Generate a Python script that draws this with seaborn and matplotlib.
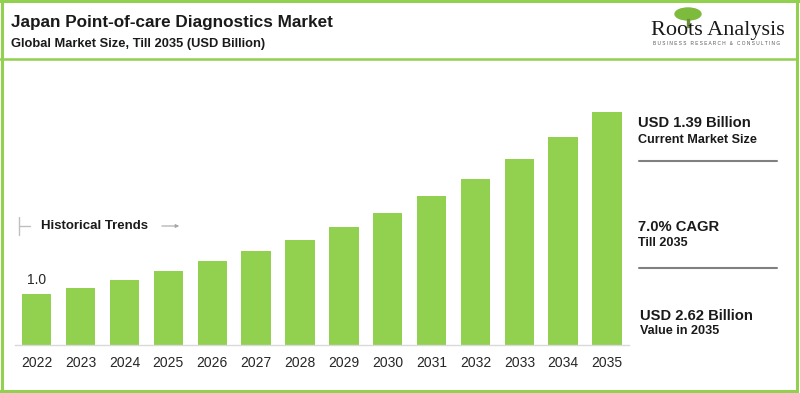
import matplotlib
matplotlib.use("Agg")
import matplotlib.pyplot as plt
import seaborn as sns
import pandas as pd
from matplotlib.lines import Line2D
from matplotlib.patches import Ellipse, Rectangle, FancyArrowPatch

# ---- data ----
years = ["2022", "2023", "2024", "2025", "2026", "2027", "2028",
         "2029", "2030", "2031", "2032", "2033", "2034", "2035"]
values = [1.00, 1.12, 1.28, 1.46, 1.66, 1.85, 2.08,
          2.33, 2.61, 2.93, 3.27, 3.67, 4.10, 4.60]
first_label = "1.0"
title = "Japan Point-of-care Diagnostics Market"
subtitle = "Global Market Size, Till 2035 (USD Billion)"
side_big = ["USD 1.39 Billion", "7.0% CAGR", "USD 2.62 Billion"]
side_small = ["Current Market Size", "Till 2035", "Value in 2035"]

BAR = "#92D050"
BORDER = "#92D050"
W, H = 800, 393

sns.set_theme(style="white")
plt.rcParams["font.family"] = ["Liberation Sans", "DejaVu Sans"]

fig = plt.figure(figsize=(W / 100, H / 100), dpi=100)

def fx(px):
    return px / W

def fy(py):
    return 1 - py / H

# axes placement
left_px, right_px = 14.8, 629
base_px, top_px = 345, 100
ax = fig.add_axes([fx(left_px), fy(base_px), fx(right_px - left_px), (base_px - top_px) / H])

df = pd.DataFrame({"year": years, "value": values})
sns.barplot(data=df, x="year", y="value", color=BAR, width=0.67, ax=ax,
            saturation=1, edgecolor="none")
ax.set_xlim(-0.5, len(years) - 0.5)
ax.set_ylim(0, (base_px - top_px) / 50.7)
ax.set_xlabel("")
ax.set_ylabel("")
ax.set_yticks([])
for s in ["top", "right", "left"]:
    ax.spines[s].set_visible(False)
ax.spines["bottom"].set_color("#d9d9d9")
ax.spines["bottom"].set_linewidth(1)
ax.tick_params(axis="x", length=0, pad=8, labelsize=10, labelcolor="#262626")
ax.set_facecolor("none")

ax.annotate(first_label, (0, values[0]), xytext=(0, 5), textcoords="offset points",
            ha="center", va="bottom", fontsize=10, color="#262626")

# borders
def hline(x0, x1, y, color, lw):
    fig.add_artist(Line2D([fx(x0), fx(x1)], [fy(y), fy(y)], color=color, lw=lw,
                          transform=fig.transFigure))

def vline(x, y0, y1, color, lw):
    fig.add_artist(Line2D([fx(x), fx(x)], [fy(y0), fy(y1)], color=color, lw=lw,
                          transform=fig.transFigure))

hline(0, 800, 1, BORDER, 2.2)
hline(0, 797, 390.5, BORDER, 2.2)
vline(1.5, 0, 393, BORDER, 2.2)
vline(796.5, 0, 393, BORDER, 2.2)
hline(0, 797, 59, BORDER, 1.8)

# titles
fig.text(fx(11), fy(22), title, fontsize=12.3, fontweight="bold", color="#1a1a1a",
         ha="left", va="center")
fig.text(fx(11), fy(44.5), subtitle, fontsize=9.3, fontweight="bold", color="#1a1a1a",
         ha="left", va="center")

# logo
fig.add_artist(Ellipse((fx(688), fy(14)), fx(26), 12 / H, color="#7dbb3c",
                       transform=fig.transFigure))
fig.add_artist(Rectangle((fx(687), fy(27)), fx(2), 8 / H, color="#6b8e3a",
                         transform=fig.transFigure))
fig.text(fx(718), fy(31), "Roots Analysis", fontsize=16, family="Liberation Serif",
         color="#1a1a1a", ha="center", va="center")
fig.text(fx(717), fy(43.5), "B U S I N E S S   R E S E A R C H   &   C O N S U L T I N G",
         fontsize=3.4, color="#555555", ha="center", va="center")

# historical trends
vline(19, 217, 235, "#bfbfbf", 1)
hline(19, 30, 226, "#bfbfbf", 1)
fig.text(fx(41), fy(226), "Historical Trends", fontsize=9.5, fontweight="bold",
         color="#1a1a1a", ha="left", va="center")
fig.add_artist(FancyArrowPatch((fx(159), fy(226)), (fx(182), fy(226)),
               arrowstyle="-|>", mutation_scale=5, color="#a6a6a6", lw=0.8,
               transform=fig.transFigure))

# right panel
big_y = [123, 227, 316]
small_y = [140, 243, 331]
xs = [638, 638, 640]
for t, s, yb, ys, x in zip(side_big, side_small, big_y, small_y, xs):
    fig.text(fx(x), fy(yb), t, fontsize=10.6, fontweight="bold", color="#1a1a1a",
             ha="left", va="center")
    fig.text(fx(x), fy(ys), s, fontsize=9.1, fontweight="bold", color="#1a1a1a",
             ha="left", va="center")
hline(639, 777, 160.7, "#808080", 1.5)
hline(639, 777, 268, "#808080", 1.5)

fig.savefig("out.png", dpi=100)
